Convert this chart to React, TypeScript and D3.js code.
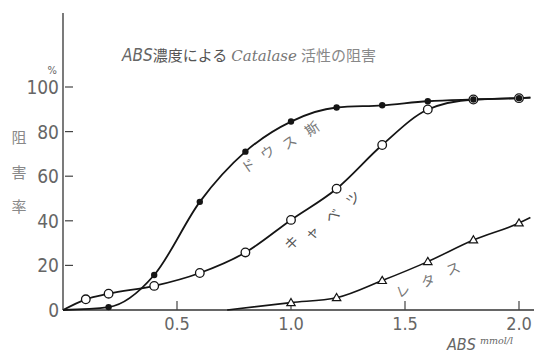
import React from "react";
import * as d3 from "d3";

// ---- data ----
const xTicks = [0.5, 1.0, 1.5, 2.0];
const xTickLabels = ["0.5", "1.0", "1.5", "2.0"];
const yTicks = [0, 20, 40, 60, 80, 100];
const yTickLabels = ["0", "20", "40", "60", "80", "100"];

// filled circles
const daikonX = [0, 0.2, 0.4, 0.6, 0.8, 1.0, 1.2, 1.4, 1.6, 1.8, 2.0, 2.05];
const daikonY = [0, 1.3, 15.7, 48.5, 71, 84.5, 90.8, 91.8, 93.6, 94.4, 95, 95.2];
const daikonMarked = [false, true, true, true, true, true, true, true, true, true, true, false];

// open circles
const cabbageX = [0, 0.1, 0.2, 0.4, 0.6, 0.8, 1.0, 1.2, 1.4, 1.6, 1.8, 2.0, 2.05];
const cabbageY = [0, 4.8, 7.3, 10.8, 16.6, 25.8, 40.4, 54.4, 74, 89.9, 94.4, 95, 95.2];
const cabbageMarked = [false, true, true, true, true, true, true, true, true, true, true, true, false];

// triangles
const lettuceX = [0.72, 1.0, 1.2, 1.4, 1.6, 1.8, 2.0, 2.05];
const lettuceY = [0, 3.3, 5.5, 13.2, 21.7, 31.4, 39, 41.5];
const lettuceMarked = [false, true, true, true, true, true, true, false];

// curve labels (characters placed along curves, data units)
const daikonLabel = ["ド", "ウ", "ス", "斯"];
const daikonLabelX = [0.81, 0.895, 0.99, 1.09];
const daikonLabelY = [65, 71, 75.5, 81.6];
const cabbageLabel = ["キ", "ャ", "ベ", "ツ"];
const cabbageLabelX = [1.0, 1.09, 1.18, 1.27];
const cabbageLabelY = [30.5, 35, 42.6, 50.2];
const lettuceLabel = ["レ", "タ", "ス"];
const lettuceLabelX = [1.49, 1.6, 1.71];
const lettuceLabelY = [9, 13.5, 18.8];

const W = 534;
const H = 354;

const x = d3.scaleLinear().domain([0, 2]).range([63, 519]);
const y = d3.scaleLinear().domain([0, 100]).range([310, 87]);

const line = d3
  .line<[number, number]>()
  .x((d) => x(d[0]))
  .y((d) => y(d[1]))
  .curve(d3.curveMonotoneX);

const zip = (xs: number[], ys: number[]) => xs.map((v, i) => [v, ys[i]] as [number, number]);

const ink = "#151515";
const textCol = "#666";
const numFont = "'DejaVu Sans Condensed', 'Liberation Sans Narrow', 'DejaVu Sans', sans-serif";
const jpFont = "'Noto Sans CJK JP', sans-serif";

export default function App() {
  const dk = zip(daikonX, daikonY);
  const cb = zip(cabbageX, cabbageY);
  const lt = zip(lettuceX, lettuceY);

  const tri = (cx: number, cy: number) => {
    const s = 4.2;
    return `M${cx},${cy - s} L${cx + s},${cy + s * 0.7} L${cx - s},${cy + s * 0.7} Z`;
  };

  return (
    <div style={{ position: "fixed", left: 0, top: 0, width: W, height: H, background: "#fff" }}>
      <svg width={W} height={H} viewBox={`0 0 ${W} ${H}`} style={{ display: "block" }}>
        <rect width={W} height={H} fill="#fff" />

        {/* axes */}
        <line x1={x(0)} y1={13} x2={x(0)} y2={y(0)} stroke="#333" strokeWidth={1.3} />
        <line x1={x(0)} y1={y(0)} x2={534} y2={y(0)} stroke="#333" strokeWidth={1.3} />

        {/* y ticks */}
        {yTicks.map((t, i) => (
          <g key={"yt" + i}>
            {t > 0 && (
              <line x1={x(0) + 2} x2={x(0) + 10} y1={y(t)} y2={y(t)} stroke="#444" strokeWidth={1.2} />
            )}
            <text
              x={59}
              y={y(t) + 7}
              textAnchor="end"
              fontFamily={numFont}
              fontSize={19}
              fontWeight={200}
              fill={textCol}
            >
              {yTickLabels[i]}
            </text>
          </g>
        ))}
        <text x={57} y={74} textAnchor="end" fontFamily={numFont} fontSize={11} fill={textCol}>
          %
        </text>

        {/* x ticks */}
        {xTicks.map((t, i) => (
          <g key={"xt" + i}>
            <line x1={x(t)} x2={x(t)} y1={y(0)} y2={y(0) - 9} stroke="#444" strokeWidth={1.2} />
            <text
              x={x(t)}
              y={330}
              textAnchor="middle"
              fontFamily={numFont}
              fontSize={18}
              fontWeight={200}
              fill={textCol}
            >
              {xTickLabels[i]}
            </text>
          </g>
        ))}

        {/* x axis title */}
        <text x={447} y={350} fontFamily={numFont} fontStyle="italic" fontSize={16} fontWeight={200} fill={textCol}>
          ABS
        </text>
        <text x={480} y={344} fontFamily="'DejaVu Serif', serif" fontStyle="italic" fontSize={9.5} fill={textCol}>
          mmol/l
        </text>

        {/* y axis title */}
        {["阻", "害", "率"].map((c, i) => (
          <text
            key={"ya" + i}
            x={19}
            y={[137, 172, 206][i] + 6}
            textAnchor="middle"
            fontFamily={jpFont}
            fontSize={15}
            fill="#888"
          >
            {c}
          </text>
        ))}

        {/* title */}
        <text x={122} y={61} fontFamily={jpFont} fontSize={15} fill="#555">
          <tspan fontFamily={numFont} fontStyle="italic" fontSize={17} fill="#666">ABS</tspan>
          <tspan>濃度による</tspan>
          <tspan dx={4} fontFamily="'DejaVu Serif', serif" fontStyle="italic" fontSize={15} fill="#777">
            Catalase
          </tspan>
          <tspan dx={4} fill="#888">活性の阻害</tspan>
        </text>

        {/* curves */}
        <path d={line(dk) || ""} fill="none" stroke={ink} strokeWidth={1.8} />
        <path d={line(cb) || ""} fill="none" stroke={ink} strokeWidth={1.8} />
        <path d={line(lt) || ""} fill="none" stroke={ink} strokeWidth={1.6} />

        {/* markers */}
        {cb.map((d, i) =>
          cabbageMarked[i] ? (
            <circle key={"cb" + i} cx={x(d[0])} cy={y(d[1])} r={4.3} fill="#fff" stroke={ink} strokeWidth={1.3} />
          ) : null
        )}
        {dk.map((d, i) =>
          daikonMarked[i] ? <circle key={"dk" + i} cx={x(d[0])} cy={y(d[1])} r={3.2} fill={ink} /> : null
        )}
        {lt.map((d, i) =>
          lettuceMarked[i] ? (
            <path key={"lt" + i} d={tri(x(d[0]), y(d[1]))} fill="#fff" stroke={ink} strokeWidth={1.2} />
          ) : null
        )}

        {/* curve labels */}
        {daikonLabel.map((c, i) => (
          <text
            key={"dl" + i}
            transform={`translate(${x(daikonLabelX[i])},${y(daikonLabelY[i])}) rotate(-35)`}
            textAnchor="middle"
            dominantBaseline="central"
            fontFamily={jpFont}
            fontSize={14}
            fill="#777"
          >
            {c}
          </text>
        ))}
        {cabbageLabel.map((c, i) => (
          <text
            key={"cl" + i}
            transform={`translate(${x(cabbageLabelX[i])},${y(cabbageLabelY[i])}) rotate(-35)`}
            textAnchor="middle"
            dominantBaseline="central"
            fontFamily={jpFont}
            fontSize={14}
            fill="#555"
          >
            {c}
          </text>
        ))}
        {lettuceLabel.map((c, i) => (
          <text
            key={"ll" + i}
            transform={`translate(${x(lettuceLabelX[i])},${y(lettuceLabelY[i])}) rotate(-20)`}
            textAnchor="middle"
            dominantBaseline="central"
            fontFamily={jpFont}
            fontSize={14}
            fill="#777"
          >
            {c}
          </text>
        ))}
      </svg>
    </div>
  );
}
